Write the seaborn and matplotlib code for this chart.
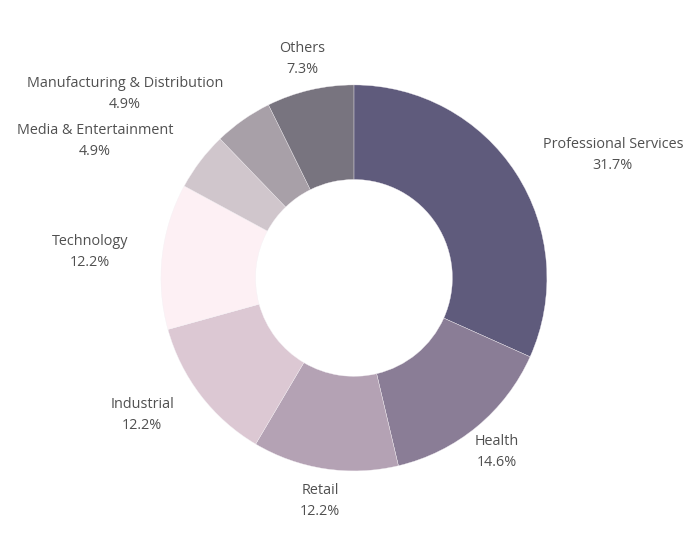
import matplotlib
matplotlib.use("Agg")
import matplotlib.pyplot as plt
import seaborn as sns

categories = ["Professional Services", "Health", "Retail", "Industrial",
              "Technology", "Media & Entertainment",
              "Manufacturing & Distribution", "Others"]
shares = [31.7, 14.6, 12.2, 12.2, 12.2, 4.9, 4.9, 7.3]
colors = ["#5f5b7c", "#8a7d96", "#b4a2b4", "#dcc8d3",
          "#fdf0f4", "#d0c6cc", "#a8a0a8", "#78747f"]

# label anchor positions in pie-radius units (layout)
label_pos = [(1.342, 0.637), (0.741, -0.902), (-0.176, -1.155), (-1.098, -0.710),
             (-1.368, 0.135), (-1.342, 0.710), (-1.187, 0.953), (-0.269, 1.135)]

sns.set_theme(style="white")
plt.rcParams["font.family"] = ["Open Sans", "DejaVu Sans"]

fig = plt.figure(figsize=(6.99, 5.46), dpi=100)
ax = fig.add_axes([0, 0, 1, 1])
ax.pie(shares, colors=colors, startangle=90, counterclock=False, radius=1.0,
       wedgeprops=dict(width=0.49, edgecolor="#f4f0f4", linewidth=0.25))
ax.set_xlim(-1.834, 1.788)
ax.set_ylim(-1.389, 1.440)
ax.set_aspect("equal", adjustable="datalim")
ax.axis("off")

for cat, val, (x, y) in zip(categories, shares, label_pos):
    ax.text(x, y, f"{cat}\n{val:.1f}%", ha="center", va="center",
            fontsize=10.4, color="#505050", linespacing=1.5)

fig.savefig("out.png", dpi=100, facecolor="white")
